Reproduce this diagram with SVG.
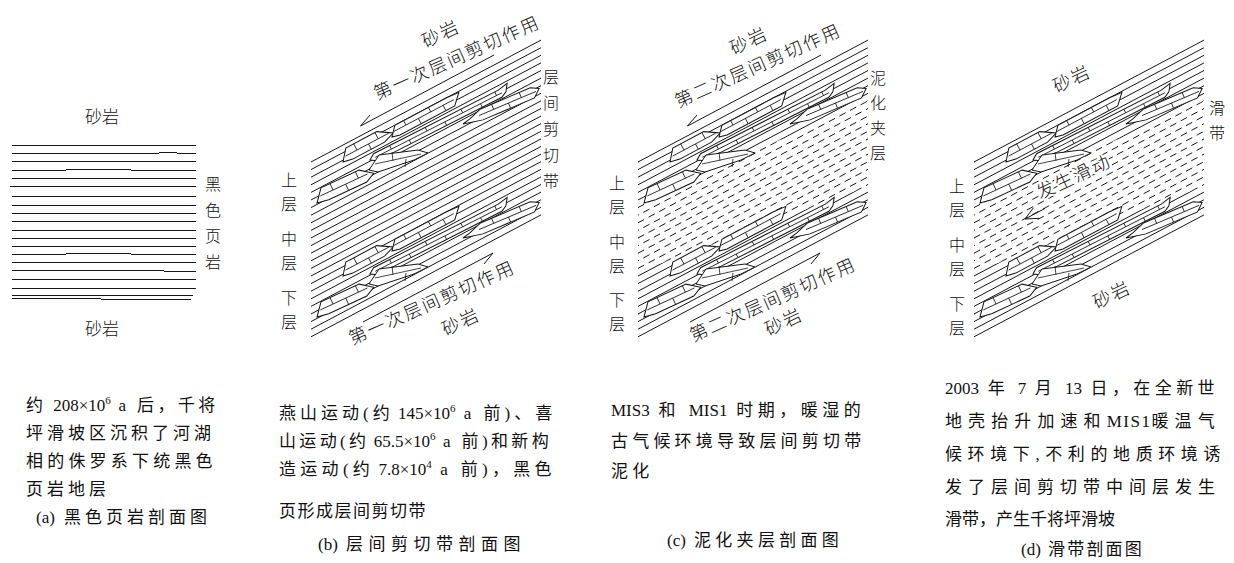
<svg xmlns="http://www.w3.org/2000/svg" xmlns:xlink="http://www.w3.org/1999/xlink" width="1234" height="563" viewBox="0 0 1234 563">
<style>
  .bed{fill:none;stroke:#161616;stroke-width:1}
  .dash{stroke-dasharray:7 5}
  .dash2{stroke-dasharray:7 5;stroke-dashoffset:6}
  .hl{fill:none;stroke:#161616;stroke-width:1.1}
  .ln{fill:#fff;stroke:#161616;stroke-width:1}
  .lt{fill:none;stroke:#161616;stroke-width:0.8}
  .arr{fill:none;stroke:#161616;stroke-width:1}
  text{fill:#111;font-family:'Liberation Serif','Noto Sans CJK SC',serif;font-size:17px}
  .lab{font-family:'Noto Sans CJK SC',sans-serif;font-weight:300;font-size:17px;text-anchor:middle}
  .vl{font-family:'Noto Sans CJK SC',sans-serif;font-weight:300;font-size:16px;text-anchor:middle}
  .rot{font-family:'Noto Sans CJK SC',sans-serif;font-weight:300;font-size:18px;text-anchor:middle;letter-spacing:2px}
  .halo{paint-order:stroke;stroke:#fff;stroke-width:4px;stroke-linejoin:round}
  .sup{font-size:11px}
</style>
<defs>
  <!-- bedding lines of the shear-zone sections, split in two sets so dashes can be staggered -->
  <path id="bedsA" d="M311,162 L541,40.1 M311,177.2 L541,55.3 M311,192.4 L541,70.5 M311,207.6 L541,85.7 M311,222.8 L541,100.9 M311,238 L541,116.1 M311,253.2 L541,131.3 M311,268.4 L541,146.5 M311,283.6 L541,161.7 M311,298.8 L541,176.9 M311,314 L541,192.1 M311,329.2 L541,207.3"/>
  <path id="bedsB" d="M311,169.6 L541,47.7 M311,184.8 L541,62.9 M311,200 L541,78.1 M311,215.2 L541,93.3 M311,230.4 L541,108.5 M311,245.6 L541,123.7 M311,260.8 L541,138.9 M311,276 L541,154.1 M311,291.2 L541,169.3 M311,306.4 L541,184.5 M311,321.6 L541,199.7 M311,336.8 L541,214.9"/>
  <!-- one band of sandstone lenses -->
  <g id="band">
    <g transform="translate(370,160) rotate(-27)">
      <path class="ln" d="M0,0 L6,-4 H146 L157,-6 L152,1 L146,4 H6 Z"/>
      <path class="lt" d="M6,0 H148 M24,-4 V0 M44,0 V4 M64,-4 V0 M84,0 V4 M104,-4 V0 M124,0 V4 M142,-4 V0"/>
    </g>
    <path class="ln" d="M369,170 L379,155 L418,150 L428,153 L414,160 L378,172 Z"/>
    <path class="lt" d="M375,164 L421,154 M392,152 L393,161 M406,159 L405,167"/>
    <g transform="translate(343,162) rotate(-28)">
      <path class="ln" d="M0,0 L9,-11 H44 L58,-2 L46,2 H10 Z"/>
      <path class="lt" d="M5,-4 H54 M18,-11 V-4 M31,-4 V2 M42,-11 V-4"/>
    </g>
    <g transform="translate(392,137) rotate(-28)">
      <path class="ln" d="M0,0 L8,-9 H66 L80,-8 L70,2 H8 Z"/>
      <path class="lt" d="M4,-4 H72 M18,-9 V-4 M32,-4 V2 M46,-9 V-4 M60,-4 V2"/>
    </g>
    <g transform="translate(463,124) rotate(-23)">
      <path class="ln" d="M0,0 L8,-2 L22,-7 H76 L84,-3 L76,4 H20 Z"/>
      <path class="lt" d="M18,-1.5 H80 M34,-7 V-1.5 M50,-1.5 V4 M64,-7 V-1.5"/>
    </g>
    <g transform="translate(317,203) rotate(-25)">
      <path class="ln" d="M0,0 L10,-12 H52 L64,-3 L54,2 H12 Z"/>
      <path class="lt" d="M6,-5 H58 M20,-12 V-5 M34,-5 V2 M48,-12 V-5"/>
    </g>
  </g>
  <g id="lenses">
    <use xlink:href="#band"/>
    <use xlink:href="#band" y="114"/>
  </g>
  <!-- softened clay interlayer between the two lens bands -->
  <clipPath id="clayClip">
    <path d="M300,208 L552,96 L552,182 L300,276 Z"/>
  </clipPath>
  <clipPath id="rockClip">
    <path clip-rule="evenodd" d="M290,20 H570 V350 H290 Z M300,208 L552,96 L552,182 L300,276 Z"/>
  </clipPath>
</defs>

<!-- (a) black shale section -->
<g id="panel-a">
  <path class="hl" d="M12,145.5 H196 M12,153.5 H159 M159,152.5 H177 M177,153.5 H196 M12,161.5 H196 M12,170.5 H66 M66,169.5 H131 M131,170.5 H196 M12,178.5 H196 M10,186.5 H196 M12,196.5 H196 M12,205.5 H196 M12,213.5 H196 M12,221.5 H196 M12,230.5 H196 M12,238.5 H196 M12,246.5 H196 M12,254.5 H66 M66,253.5 H131 M131,254.5 H196 M12,262.5 H196 M12,270.5 H164 M164,271.5 H196 M12,279.5 H196 M12,288.5 H196 M12,295.5 H193 M12,298.5 H101 M101,299.5 H191"/>
  <text class="lab" x="102" y="123">砂岩</text>
  <text class="lab" x="102" y="335">砂岩</text>
  <text class="vl"><tspan x="213" y="190">黑</tspan><tspan x="213" y="216">色</tspan><tspan x="213" y="242">页</tspan><tspan x="213" y="268">岩</tspan></text>
</g>

<!-- (b) interlayer shear zone -->
<g id="panel-b">
  <use class="bed" xlink:href="#bedsA"/>
  <use class="bed" xlink:href="#bedsB"/>
  <use xlink:href="#lenses"/>
  <path class="arr" d="M360.5,126 L494,55 M360.5,126 L370,115"/>
  <path class="arr" d="M363,322 L493,253 M493,253 L484,264"/>
  <text class="rot" transform="translate(441,34) rotate(-25)" y="6">砂岩</text>
  <text class="rot" transform="translate(457,58) rotate(-24)" y="6">第一次层间剪切作用</text>
  <text class="rot" transform="translate(432,303) rotate(-24)" y="6">第一次层间剪切作用</text>
  <text class="rot" transform="translate(461,322) rotate(-25)" y="6">砂岩</text>
  <text class="vl"><tspan x="551" y="83">层</tspan><tspan x="551" y="109">间</tspan><tspan x="551" y="135">剪</tspan><tspan x="551" y="161">切</tspan><tspan x="551" y="187">带</tspan></text>
  <text class="vl"><tspan x="289" y="186">上</tspan><tspan x="289" y="210">层</tspan><tspan x="289" y="245">中</tspan><tspan x="289" y="269">层</tspan><tspan x="289" y="304">下</tspan><tspan x="289" y="328">层</tspan></text>
</g>

<!-- (c) clay-softened interlayer -->
<g id="panel-c">
  <g transform="translate(327,0)">
    <use class="bed" xlink:href="#bedsA" clip-path="url(#rockClip)"/>
    <use class="bed" xlink:href="#bedsB" clip-path="url(#rockClip)"/>
    <use class="bed dash" xlink:href="#bedsA" clip-path="url(#clayClip)"/>
    <use class="bed dash2" xlink:href="#bedsB" clip-path="url(#clayClip)"/>
    <use xlink:href="#lenses"/>
    <path class="arr" d="M360.5,126 L494,55 M360.5,126 L370,115"/>
    <path class="arr" d="M363,322 L493,253 M493,253 L484,264"/>
  </g>
  <text class="rot" transform="translate(749,41) rotate(-25)" y="6">砂岩</text>
  <text class="rot" transform="translate(758,66) rotate(-24)" y="6">第二次层间剪切作用</text>
  <text class="rot" transform="translate(773,300) rotate(-24)" y="6">第二次层间剪切作用</text>
  <text class="rot" transform="translate(784,322) rotate(-25)" y="6">砂岩</text>
  <text class="vl"><tspan x="878" y="84">泥</tspan><tspan x="878" y="109">化</tspan><tspan x="878" y="134">夹</tspan><tspan x="878" y="159">层</tspan></text>
  <text class="vl"><tspan x="617" y="189">上</tspan><tspan x="617" y="213">层</tspan><tspan x="617" y="248">中</tspan><tspan x="617" y="272">层</tspan><tspan x="617" y="306">下</tspan><tspan x="617" y="330">层</tspan></text>
</g>

<!-- (d) sliding zone -->
<g id="panel-d">
  <g transform="translate(663,0)">
    <use class="bed" xlink:href="#bedsA" clip-path="url(#rockClip)"/>
    <use class="bed" xlink:href="#bedsB" clip-path="url(#rockClip)"/>
    <use class="bed dash" xlink:href="#bedsA" clip-path="url(#clayClip)"/>
    <use class="bed dash2" xlink:href="#bedsB" clip-path="url(#clayClip)"/>
    <use xlink:href="#lenses"/>
  </g>
  <path class="arr" d="M1025,219 L1045,208.4 M1033.4,207.8 L1025,219 L1039,218.3"/>
  <text class="rot halo" transform="translate(1074,177) rotate(-25)" y="6">发生滑动</text>
  <text class="rot" transform="translate(1072,79) rotate(-25)" y="6">砂岩</text>
  <text class="rot" transform="translate(1112,295) rotate(-25)" y="6">砂岩</text>
  <text class="vl"><tspan x="1217" y="114">滑</tspan><tspan x="1217" y="139">带</tspan></text>
  <text class="vl"><tspan x="957" y="192">上</tspan><tspan x="957" y="216">层</tspan><tspan x="957" y="251">中</tspan><tspan x="957" y="275">层</tspan><tspan x="957" y="310">下</tspan><tspan x="957" y="334">层</tspan></text>
</g>

<!-- captions -->
<g id="caption-a">
  <text x="26" y="411"><tspan letter-spacing="3">约 </tspan>208×10<tspan class="sup" dy="-7">6</tspan><tspan dy="7" letter-spacing="3.4"> a 后，千将</tspan></text>
  <text x="26" y="439" letter-spacing="4">坪滑坡区沉积了河湖</text>
  <text x="26" y="467" letter-spacing="4.2">相的侏罗系下统黑色</text>
  <text x="26" y="495" letter-spacing="4">页岩地层</text>
  <text x="36" y="523">(a)<tspan x="64" letter-spacing="4">黑色页岩剖面图</tspan></text>
</g>
<g id="caption-b">
  <text x="279" y="419"><tspan letter-spacing="4">燕山运动(约</tspan> 145×10<tspan class="sup" dy="-7">6</tspan><tspan dy="7" letter-spacing="4"> a 前)、喜</tspan></text>
  <text x="279" y="447"><tspan letter-spacing="3.35">山运动(约</tspan> 65.5×10<tspan class="sup" dy="-7">6</tspan><tspan dy="7" letter-spacing="3.35"> a 前)和新构</tspan></text>
  <text x="279" y="475"><tspan letter-spacing="4.3">造运动(约</tspan> 7.8×10<tspan class="sup" dy="-7">4</tspan><tspan dy="7" letter-spacing="4.3"> a 前)，黑色</tspan></text>
  <text x="279" y="517" letter-spacing="1.5">页形成层间剪切带</text>
  <text x="318" y="550">(b)<tspan x="346" letter-spacing="5.5">层间剪切带剖面图</tspan></text>
</g>
<g id="caption-c">
  <text x="611" y="416">MIS3<tspan letter-spacing="4.5"> 和 </tspan>MIS1<tspan letter-spacing="4.5"> 时期，暖湿的</tspan></text>
  <text x="611" y="447" letter-spacing="4.2">古气候环境导致层间剪切带</text>
  <text x="611" y="477" letter-spacing="4.2">泥化</text>
  <text x="667" y="546">(c)<tspan x="694" letter-spacing="4.3">泥化夹层剖面图</tspan></text>
</g>
<g id="caption-d">
  <text x="945" y="394">2003<tspan letter-spacing="4.4"> 年 </tspan>7<tspan letter-spacing="4.4"> 月 </tspan>13<tspan letter-spacing="4.4"> 日，在全新世</tspan></text>
  <text x="945" y="427"><tspan letter-spacing="6.1">地壳抬升加速和</tspan><tspan letter-spacing="1.5">MIS1</tspan><tspan letter-spacing="6.1">暖温气</tspan></text>
  <text x="945" y="460" letter-spacing="5.6">候环境下,不利的地质环境诱</text>
  <text x="945" y="493" letter-spacing="6">发了层间剪切带中间层发生</text>
  <text x="945" y="525">滑带，产生千将坪滑坡</text>
  <text x="1021" y="555">(d)<tspan x="1048" letter-spacing="2.2">滑带剖面图</tspan></text>
</g>
</svg>
